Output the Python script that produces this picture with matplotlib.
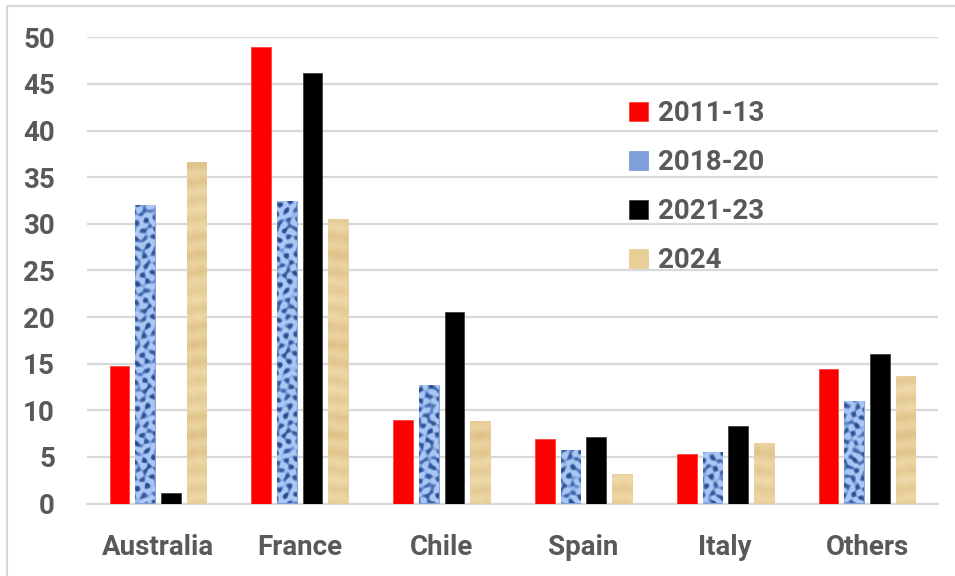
import numpy as np
import matplotlib
matplotlib.use('Agg')
import matplotlib.pyplot as plt
from matplotlib.colors import LinearSegmentedColormap
from matplotlib.lines import Line2D

categories = ['Australia', 'France', 'Chile', 'Spain', 'Italy', 'Others']
series_labels = ['2011-13', '2018-20', '2021-23', '2024']
v_2011_13 = [14.7, 49.0, 9.0, 6.9, 5.3, 14.4]
v_2018_20 = [32.0, 32.4, 12.7, 5.7, 5.5, 11.0]
v_2021_23 = [1.1, 46.2, 20.5, 7.1, 8.3, 16.0]
v_2024 = [36.6, 30.5, 8.9, 3.2, 6.5, 13.7]
yticks = list(range(0, 55, 5))

plt.rcParams['font.family'] = ['Roboto', 'DejaVu Sans']
plt.rcParams['font.weight'] = 'bold'
TXT = '#595959'
GRID = '#d9d9d9'
FS = 20

fig = plt.figure(figsize=(9.55, 5.76), dpi=100)
ax = fig.add_axes([87 / 955, 72.5 / 576, 851 / 955, 466.2 / 576])

x = np.arange(len(categories))
w = 0.138
step = 0.181
series = [v_2011_13, v_2018_20, v_2021_23, v_2024]
colors = ['#ff0000', '#7e9fd8', '#000000', '#e8cf98']
edges = ['#ff4040', '#7e9fd8', '#404040', '#e8cf98']
containers = []
for i, (vals, c, e, lab) in enumerate(zip(series, colors, edges, series_labels)):
    off = (i - 1.5) * step
    bc = ax.bar(x + off, vals, width=w, color=c, edgecolor=e, linewidth=0.6,
                label=lab, zorder=3)
    containers.append(bc)

xlim = (-0.5, len(categories) - 0.5)
ylim = (0, 50)

# decorative textures (not data)
H, W = 466, 851
yy, xx = np.mgrid[0:H, 0:W].astype(float)
blue_tex = (np.sin(xx * 0.62 + 1.5 * np.sin(yy * 0.31)) + np.sin(yy * 0.71 + 1.5 * np.sin(xx * 0.27))
            + 0.8 * np.sin(0.45 * xx + 0.55 * yy) + 0.6 * np.sin(0.83 * xx - 0.4 * yy))
blue_tex = np.tanh(blue_tex * 0.7)
tan_tex = (0.7 * np.sin(yy * 0.35 + 0.4 * np.sin(xx * 0.15))
           + 0.12 * np.sin(xx * 0.5 + yy * 0.05) + 0.4 * np.sin(yy * 0.07))
blue_cmap = LinearSegmentedColormap.from_list('b', ['#2a4a8a', '#5a80c2', '#93b5ec', '#b0cbf5', '#a8c4f2'])
tan_cmap = LinearSegmentedColormap.from_list('t', ['#dfc288', '#e8cf9a', '#eed9aa'])
for bc, tex, cm in [(containers[1], blue_tex, blue_cmap), (containers[3], tan_tex, tan_cmap)]:
    for bar in bc:
        im = ax.imshow(tex, extent=(xlim[0], xlim[1], ylim[0], ylim[1]), origin='lower',
                       cmap=cm, aspect='auto', interpolation='bilinear', zorder=3.5)
        im.set_clip_path(bar)

ax.set_xlim(*xlim)
ax.set_ylim(*ylim)
ax.set_yticks(yticks)
ax.set_xticks(x)
ax.set_xticklabels(categories)
for s in ax.spines.values():
    s.set_visible(False)
ax.grid(axis='y', color=GRID, linewidth=1.6, zorder=0)
ax.set_axisbelow(True)
ax.tick_params(axis='y', length=0, pad=23, labelsize=FS, labelcolor=TXT)
ax.tick_params(axis='x', length=0, pad=22, labelsize=FS, labelcolor=TXT)
for t in ax.get_xticklabels() + ax.get_yticklabels():
    t.set_fontweight('bold')
ax.axhline(0, color=GRID, linewidth=1.6, zorder=2, clip_on=False)

leg = ax.legend(loc='upper left', bbox_to_anchor=((629 - 87) / 851, (503.5 - 100.5) / 466.2),
                frameon=False, fontsize=FS, labelcolor=TXT,
                handlelength=0.68, handleheight=0.68, handletextpad=0.35,
                labelspacing=0.79, borderpad=0, borderaxespad=0)
for t in leg.get_texts():
    t.set_fontweight('bold')

fig.add_artist(Line2D([6.5 / 955, 6.5 / 955], [0, 1 - 5.5 / 576], color=GRID, linewidth=1.5))
fig.add_artist(Line2D([6.5 / 955, 1], [1 - 5.5 / 576, 1 - 5.5 / 576], color=GRID, linewidth=1.5))

fig.savefig('out.png', dpi=100)
